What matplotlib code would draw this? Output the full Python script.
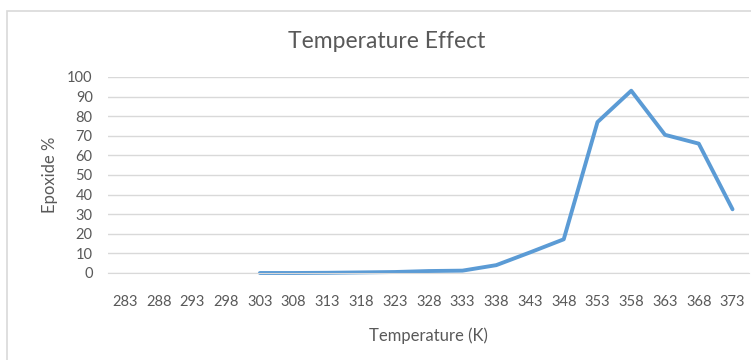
import matplotlib
matplotlib.use("Agg")
import matplotlib.pyplot as plt
from matplotlib.patches import Rectangle

temps = [283, 288, 293, 298, 303, 308, 313, 318, 323, 328,
         333, 338, 343, 348, 353, 358, 363, 368, 373]
# no measurements below 303 K
epoxide = [None, None, None, None, 0, 0, 0.1, 0.3, 0.5, 1.0,
           1.2, 4, 10.5, 17.2, 77, 93, 70.5, 66, 32.5]

text_col = "#595959"
plt.rcParams["font.family"] = ["Lato", "DejaVu Sans"]

fig = plt.figure(figsize=(7.51, 3.6), dpi=100)
ax = fig.add_axes([108 / 751, 1 - 273 / 360, (749.4 - 108) / 751, 196 / 360])

xs = [i for i, v in enumerate(epoxide) if v is not None]
ys = [v for v in epoxide if v is not None]
ax.plot(xs, ys, color="#5B9BD5", linewidth=2.8, solid_joinstyle="round",
        solid_capstyle="round", clip_on=False)

ax.set_xlim(-0.5, len(temps) - 0.5)
ax.set_ylim(0, 100)
ax.set_yticks(range(0, 101, 10))
ax.set_xticks(range(len(temps)))
ax.set_xticklabels([str(t) for t in temps])
ax.yaxis.grid(True, color="#D9D9D9", linewidth=1)
ax.set_axisbelow(True)
for s in ax.spines.values():
    s.set_visible(False)
ax.spines["bottom"].set_visible(True)
ax.spines["bottom"].set_color("#D9D9D9")
ax.tick_params(length=0, colors=text_col, labelsize=10.5)
ax.tick_params(axis="x", pad=16)
ax.tick_params(axis="y", pad=11)

ax.set_xlabel("Temperature (K)", color=text_col, fontsize=12, labelpad=13)
ax.set_ylabel("Epoxide %", color=text_col, fontsize=12, labelpad=7)
fig.text(387 / 751, 1 - 42 / 360, "Temperature Effect", color=text_col,
         fontsize=16.5, ha="center", va="center")

fig.patches.append(Rectangle((7 / 751, -0.1), 1.2, 1 - 11 / 360 + 0.1,
                             transform=fig.transFigure, fill=False,
                             edgecolor="#D9D9D9", linewidth=1.2))

fig.savefig("out.png", dpi=100)
